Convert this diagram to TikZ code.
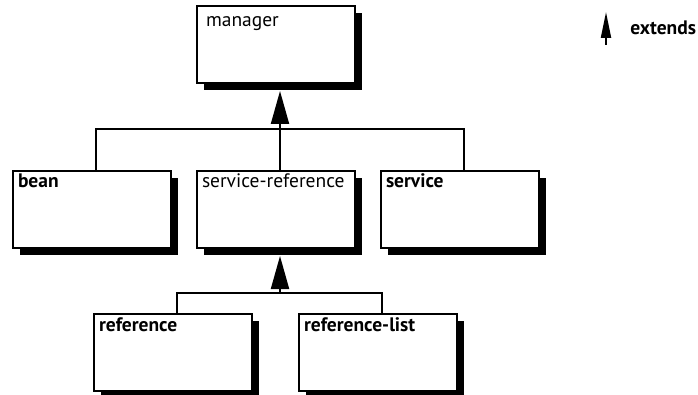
\documentclass[tikz,border=0pt]{standalone}
\usepackage{fontspec}
\setmainfont{PT Sans}
\usetikzlibrary{arrows.meta,shadows}
\newcommand{\clsfont}{\fontsize{19.5}{22}\selectfont}

\begin{document}
\begin{tikzpicture}[x=1pt,y=-1pt,line width=2pt,font=\clsfont]
\tikzstyle{cls}=[draw,fill=white,anchor=north west,minimum width=158pt,minimum height=77pt,inner sep=0pt,
  drop shadow={shadow xshift=7pt,shadow yshift=-7pt,opacity=1,fill=black}]
\tikzstyle{tag}=[anchor=base west,inner sep=0pt,xshift=5pt,yshift=-18pt,font=\clsfont]
\tikzstyle{btag}=[tag,font=\clsfont\bfseries]
\tikzstyle{ext}=[-{Triangle[length=33pt,width=18pt]}]
\useasboundingbox (0,0) rectangle (698,395);
% classes
\node[cls,label={[tag,xshift=4pt,yshift=-4pt]north west:manager}] (manager) at (196,5) {};
\node[cls,label={[btag]north west:bean}] (bean) at (12,170) {};
\node[cls,label={[tag]north west:service-reference}] (svcref) at (196,170) {};
\node[cls,label={[btag]north west:service}] (service) at (380,170) {};
\node[cls,label={[btag]north west:reference}] (ref) at (93,313) {};
\node[cls,label={[btag]north west:reference-list}] (reflist) at (298,313) {};
% hierarchy
\coordinate (upbar) at (280,129);
\coordinate (lowbar) at (280,293);
\draw ([xshift=4pt]bean.north) |- (upbar) -| ([xshift=4pt]service.north);
\draw ([xshift=4pt]svcref.north) -- (upbar);
\draw[ext] (upbar) -- ([xshift=4pt,yshift=-7pt]manager.south);
\draw ([xshift=4pt]ref.north) |- (lowbar) -| ([xshift=4pt]reflist.north);
\draw[ext] (lowbar) -- ([xshift=4pt,yshift=-7pt]svcref.south);
% legend
\coordinate (legtail) at (606,45);
\coordinate (legtip) at (606,12);
\draw[-{Triangle[length=26pt,width=10pt]}] (legtail) -- (legtip);
\node[anchor=base east,inner sep=0pt,font=\clsfont\bfseries] (legend) at (697,35) {extends};
\end{tikzpicture}
\end{document}
